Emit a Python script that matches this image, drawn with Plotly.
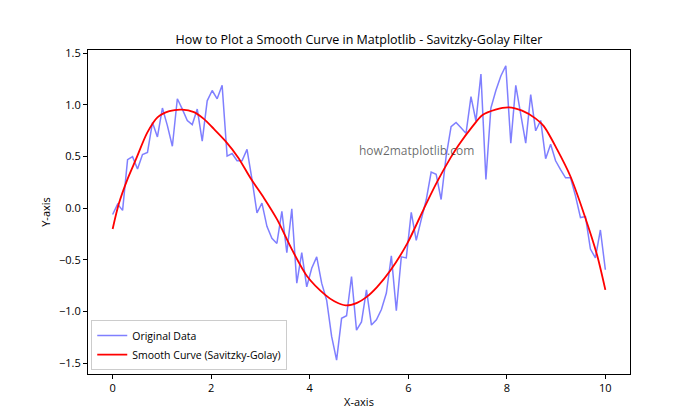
import numpy as np
import plotly.graph_objects as go

# Original noisy data (100 samples on 0..10)
x_orig = np.linspace(0, 10, 100)
y_orig = [
    -0.06, 0.04, -0.02, 0.47, 0.50, 0.38, 0.52, 0.54, 0.83, 0.69,
    0.97, 0.80, 0.60, 1.06, 0.96, 0.85, 0.81, 0.96, 0.65, 1.04,
    1.14, 1.06, 1.19, 0.505, 0.53, 0.46, 0.46, 0.57, 0.28, -0.045,
    0.05, -0.175, -0.29, -0.34, -0.03, -0.43, -0.005, -0.725, -0.43, -0.76,
    -0.58, -0.47, -0.725, -0.89, -1.24, -1.47, -1.065, -1.04, -0.66, -1.18,
    -1.10, -0.79, -1.13, -1.08, -0.98, -0.82, -0.46, -0.99, -0.47, -0.48,
    -0.04, -0.31, -0.11, 0.08, 0.35, 0.33, 0.085, 0.50, 0.79, 0.83,
    0.78, 0.725, 1.08, 0.845, 1.30, 0.28, 0.97, 1.14, 1.28, 1.38,
    0.63, 1.19, 0.91, 0.63, 1.10, 0.75, 0.85, 0.48, 0.62, 0.46,
    0.375, 0.295, 0.295, 0.12, -0.09, -0.08, -0.395, -0.48, -0.21, -0.595,
]

# Smoothed curve (Savitzky-Golay)
x_smooth = [0, 0.13, 0.30, 0.47, 0.70, 0.91, 1.15, 1.41, 1.65, 1.85, 2.05, 2.29,
            2.55, 2.80, 3.07, 3.34, 3.64, 3.95, 4.32, 4.50, 4.73, 4.96, 5.15,
            5.37, 5.64, 5.98, 6.32, 6.59, 6.86, 7.02, 7.30, 7.50, 7.77, 8.04,
            8.31, 8.58, 8.75, 9.02, 9.29, 9.56, 9.83, 10.0]
y_smooth = [-0.20, 0.05, 0.28, 0.47, 0.73, 0.88, 0.94, 0.955, 0.93, 0.865, 0.77, 0.65,
            0.49, 0.29, 0.10, -0.11, -0.40, -0.66, -0.84, -0.90, -0.94, -0.915, -0.86,
            -0.76, -0.60, -0.34, 0.0, 0.26, 0.49, 0.61, 0.79, 0.90, 0.955, 0.977,
            0.945, 0.87, 0.795, 0.57, 0.31, -0.045, -0.45, -0.79]

x_ticks = [0, 2, 4, 6, 8, 10]
y_ticks = [-1.5, -1.0, -0.5, 0.0, 0.5, 1.0, 1.5]

FONT = "Open Sans, DejaVu Sans, sans-serif"

fig = go.Figure()
fig.add_trace(go.Scatter(
    x=x_orig, y=y_orig, mode="lines", name="Original Data",
    line=dict(color="rgba(0,0,255,0.5)", width=1.5),
))
fig.add_trace(go.Scatter(
    x=x_smooth, y=y_smooth, mode="lines", name="Smooth Curve (Savitzky-Golay)",
    line=dict(color="#ff0000", width=1.8, shape="spline", smoothing=0.8),
))

fig.add_annotation(
    x=5, y=0.5, xref="x", yref="y", text="how2matplotlib.com",
    showarrow=False, xanchor="left", yanchor="bottom", yshift=-4, xshift=-2,
    font=dict(family=FONT, size=12, color="rgba(0,0,0,0.6)"),
)

axis_common = dict(
    showline=True, linecolor="black", linewidth=1, mirror=True,
    ticks="outside", ticklen=4, tickcolor="black", showgrid=False,
    zeroline=False, tickfont=dict(family=FONT, size=11, color="black"),
)

fig.update_layout(
    width=700, height=420,
    paper_bgcolor="white", plot_bgcolor="white",
    margin=dict(l=88, r=70, t=50, b=46),
    title=dict(text="How to Plot a Smooth Curve in Matplotlib - Savitzky-Golay Filter",
               x=(88 + 630) / 2 / 700, xanchor="center", y=1 - 40 / 420, yanchor="middle",
               font=dict(family=FONT, size=12.5, color="black")),
    xaxis=dict(range=[-0.5, 10.5], tickvals=x_ticks,
               title=dict(text="X-axis", font=dict(family=FONT, size=11, color="black"), standoff=4),
               **axis_common),
    yaxis=dict(range=[-1.604, 1.532], tickvals=y_ticks, tickformat=".1f",
               title=dict(text="Y-axis", font=dict(family=FONT, size=11, color="black"), standoff=6),
               **axis_common),
    legend=dict(x=0.006, y=0.012, xanchor="left", yanchor="bottom",
                bgcolor="rgba(255,255,255,0.8)", bordercolor="#cccccc", borderwidth=1,
                font=dict(family=FONT, size=10.5, color="black"), tracegroupgap=0),
    showlegend=True,
)

fig.write_html("out.html", config={"displayModeBar": False},
               post_script="document.body.style.margin='0';")
